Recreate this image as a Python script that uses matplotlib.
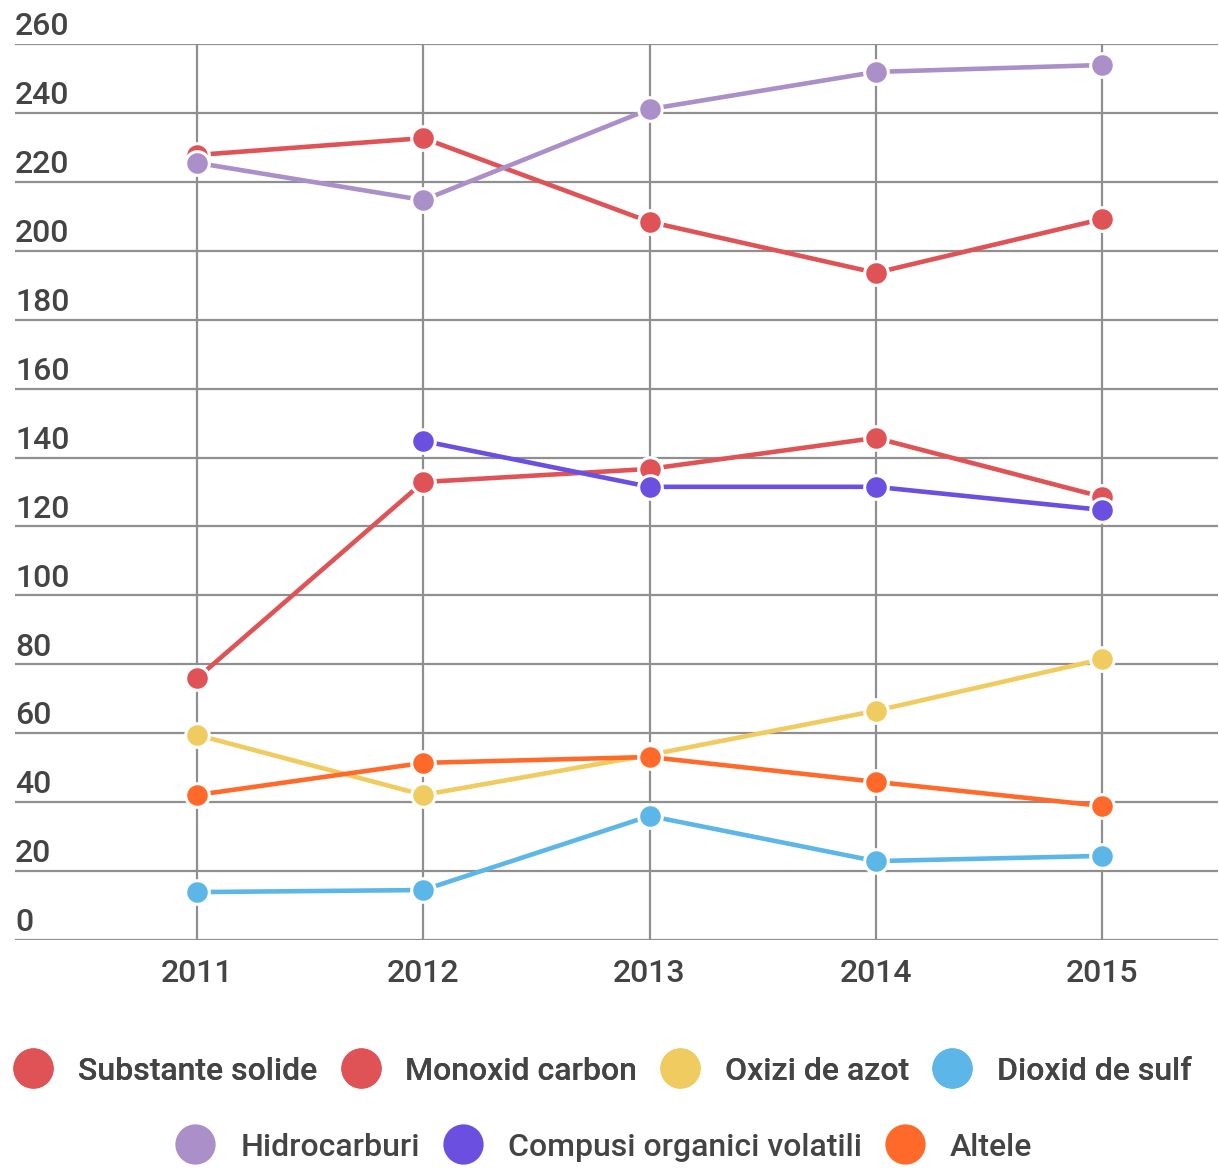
import matplotlib
matplotlib.use('Agg')
import matplotlib.pyplot as plt
from matplotlib.lines import Line2D

plt.rcParams['font.family'] = ['Roboto', 'DejaVu Sans']
plt.rcParams['font.weight'] = 'medium'

years = [2011, 2012, 2013, 2014, 2015]
substante_solide = [227.8, 232.7, 208.4, 193.6, 209.2]
monoxid_carbon = [76.0, 132.9, 136.7, 145.7, 128.6]
oxizi_azot = [59.5, 42.1, 53.7, 66.5, 81.5]
dioxid_sulf = [13.9, 14.5, 36.0, 22.9, 24.4]
hidrocarburi = [225.5, 214.7, 241.1, 251.9, 253.9]
compusi_volatili = [None, 144.8, 131.5, 131.5, 124.8]
altele = [42.1, 51.4, 53.1, 45.9, 38.9]

names = ['Substante solide', 'Monoxid carbon', 'Oxizi de azot', 'Dioxid de sulf',
         'Hidrocarburi', 'Compusi organici volatili', 'Altele']
series = [substante_solide, monoxid_carbon, oxizi_azot, dioxid_sulf,
          hidrocarburi, compusi_volatili, altele]
colors = ['#df5356', '#df5356', '#f0cb60', '#5cb6e8', '#ab8fc9', '#6b4fe0', '#ff6a2b']
yticks = list(range(0, 261, 20))

txt = '#444444'
grid_c = '#8f8f8f'
fs = 23

fig = plt.figure(figsize=(12.19, 11.68), dpi=100)
ax = fig.add_axes([15/1219, (1168-940)/1168, 1203/1219, 896/1168])

for name, vals, c in zip(names, series, colors):
    xs = [y for y, v in zip(years, vals) if v is not None]
    vs = [v for v in vals if v is not None]
    ax.plot(xs, vs, color=c, lw=3.3, marker='o', ms=17, mfc=c,
            mec='white', mew=2.2, clip_on=False, zorder=3, label=name)

ax.set_xlim(2011 - 182/226, 2015 + 116/226)
ax.set_ylim(0, 260)
ax.set_xticks(years)
ax.set_xticklabels([str(y) for y in years])
ax.set_yticks(yticks)
ax.set_yticklabels([])
ax.grid(True, color=grid_c, lw=1.6, zorder=0)
ax.tick_params(axis='both', length=0, colors=txt, labelsize=fs)
ax.tick_params(axis='x', pad=14)
for s in ax.spines.values():
    s.set_visible(False)
ax.set_facecolor('white')

# y labels sit above their gridline at the left edge
for t in yticks:
    ax.annotate(str(t), xy=(0, t), xycoords=ax.get_yaxis_transform(),
                xytext=(0, 2), textcoords='offset points',
                ha='left', va='bottom', fontsize=fs, color=txt)

def mk(c):
    return Line2D([], [], ls='none', marker='o', ms=29, mfc=c, mec='white', mew=0)

h = [mk(c) for c in colors]
leg1 = fig.legend(h[:4], names[:4], loc='center', bbox_to_anchor=(603/1219, 1-1071/1168),
                  ncol=4, frameon=False, fontsize=fs, labelcolor=txt,
                  handlelength=1.2, handletextpad=0.8, columnspacing=0.75,
                  borderpad=0, borderaxespad=0)
fig.add_artist(leg1)
fig.legend(h[4:], names[4:], loc='center', bbox_to_anchor=(604/1219, 1-1147/1168),
           ncol=3, frameon=False, fontsize=fs, labelcolor=txt,
           handlelength=1.2, handletextpad=0.8, columnspacing=0.75,
           borderpad=0, borderaxespad=0)

fig.savefig('out.png', dpi=100, facecolor='white')
